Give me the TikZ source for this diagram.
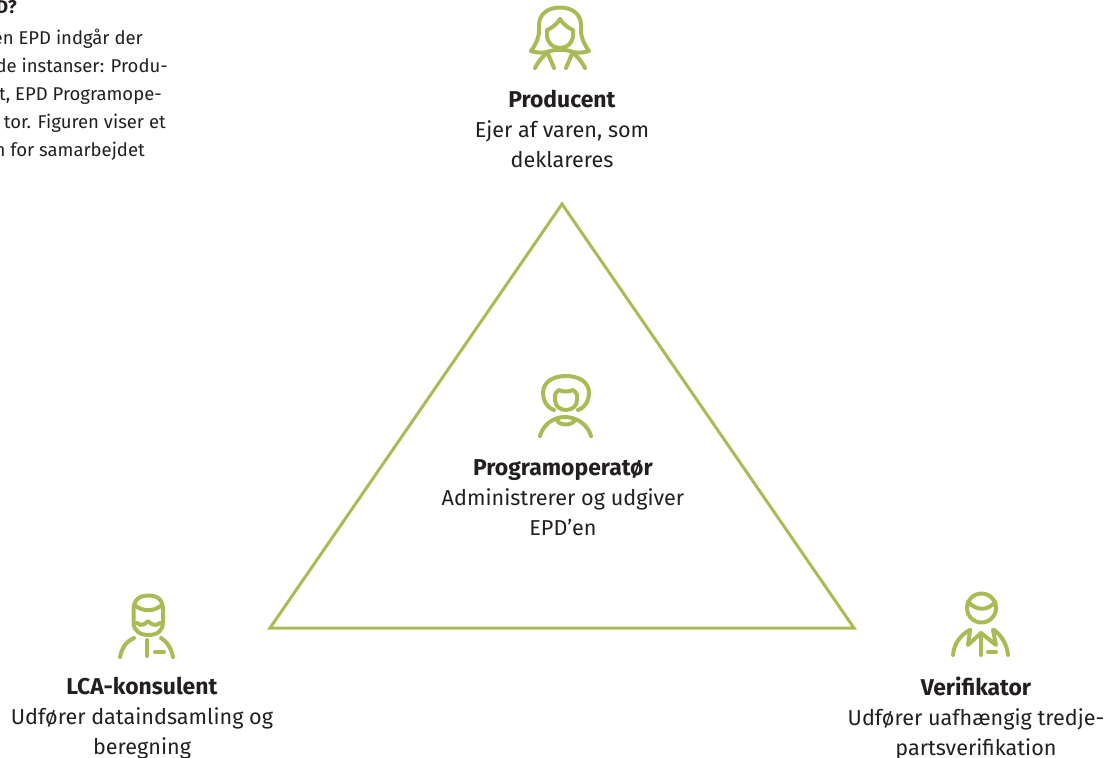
\documentclass[tikz,border=0pt]{standalone}
\usepackage{fontspec}
\setmainfont{Fira Sans}
\definecolor{tri}{HTML}{A9BB55}
\definecolor{ink}{HTML}{231F20}
\newcommand{\lblhead}[1]{{\fontsize{22.9}{30}\selectfont\textbf{#1}}}
\tikzset{
 tribox/.style={draw=tri,line width=3pt,line join=miter},
 icon/.style={draw=tri,line width=4pt,line cap=round,line join=round},
 lbl/.style={align=center,text=ink,font=\fontsize{21.6}{30}\selectfont,inner sep=0pt,anchor=north},
 side/.style={text=ink,font=\fontsize{18.5}{28}\selectfont,inner sep=0pt,anchor=base east},
}
\begin{document}
\begin{tikzpicture}[x=1pt,y=-1pt]
\useasboundingbox (0,0) rectangle (1109,758);
% triangle
\coordinate (ta) at (562,204);
\coordinate (tb) at (270,628);
\coordinate (tc) at (854,628);
\draw[tribox] (ta) -- (tb) -- (tc) -- cycle;
% side text
\node[side] (head) at (17,13) {\textbf{D?}};
\node[side] (s1) at (143,44) {en EPD indgår der};
\node[side] (s2) at (168,72) {de instanser: Produ-};
\node[side] (s3) at (162,100) {t, EPD Programope-};
\node[side] (s4) at (166,128) {tor. Figuren viser et};
\node[side] (s5) at (145,156) {n for samarbejdet};
% labels
\node[lbl] (prod) at (562,90) {\lblhead{Producent}\\Ejer af varen, som\\deklareres};
\node[lbl] (prog) at (563,459.5) {\lblhead{Programoperatør}\\Administrerer og udgiver\\EPD’en};
\node[lbl] (lca) at (142,677) {\lblhead{LCA-konsulent}\\Udfører dataindsamling og\\beregning};
\node[lbl] (ver) at (976,677) {\lblhead{Verifikator}\\Udfører uafhængig tredje-\\partsverifikation};
% Producent icon
\draw[icon] (531,51) .. controls (536,44) and (539,38) .. (539,30) -- (539,25)
  .. controls (539,14) and (548,7.5) .. (560,7.5) .. controls (572,7.5) and (581,14) .. (581,25) -- (581,30)
  .. controls (581,38) and (584,44) .. (589,51) .. controls (583,53) and (577,53) .. (573,52)
  .. controls (565,49) and (555,49) .. (547,52) .. controls (543,53) and (537,53) .. (531,51);
\draw[icon] (560,19) .. controls (557,24) and (552,28) .. (547,30) -- (547,35)
  .. controls (547,43) and (553,48) .. (560,48) .. controls (567,48) and (573,43) .. (573,35) -- (573,30)
  .. controls (568,28) and (563,24) .. (560,19);
\draw[icon] (535,68) .. controls (538,62) and (542,57) .. (547,53);
\draw[icon] (585,68) .. controls (582,62) and (578,57) .. (573,53);
\draw[icon] (548,54) -- (554,68);
\draw[icon] (572,54) -- (566,68);
% Programoperator icon
\draw[icon] (554,410) .. controls (546,407) and (543,400) .. (543,393)
  .. controls (543,382) and (553,376) .. (566,376) .. controls (579,376) and (589,382) .. (589,393)
  .. controls (589,400) and (586,407) .. (578,410);
\draw[icon] (555,395) .. controls (555,393) and (557,392) .. (559,390) .. controls (562,392) and (570,392) .. (573,390)
  .. controls (575,392) and (577,393) .. (577,395) -- (577,400) .. controls (577,406) and (572,410) .. (566,410) .. controls (560,410) and (555,406) .. (555,400) -- cycle;
\draw[icon] (540,436) .. controls (543,425) and (553,417) .. (565,417) .. controls (577,417) and (588,425) .. (591,436);
\draw[icon] (557,420) .. controls (559,426) and (572,426) .. (575,420);
% LCA icon
\draw[icon] (133.5,610) .. controls (133.5,600) and (139,595.5) .. (148.5,595.5) .. controls (158,595.5) and (163,600) .. (163,610)
  -- (163,622) .. controls (163,631) and (157,635) .. (148.5,635) .. controls (140,635) and (133.5,631) .. (133.5,622) -- cycle;
\draw[icon] (134,605) .. controls (144,612) and (153,612) .. (162,605);
\draw[icon] (137,623) .. controls (142,627) and (145,624) .. (148,621) .. controls (151,624) and (155,627) .. (160,623);
\draw[icon] (120,657) .. controls (122,647) and (127,641) .. (134,638);
\draw[icon] (173,657) .. controls (171,647) and (166,641) .. (161,638);
\draw[icon] (147,640) -- (147,656);
\draw[icon] (155,652) -- (164,652);
% Verifikator icon
\draw[icon] (981.5,608) circle[radius=14.5];
\draw[icon] (968,602) .. controls (977,611) and (987,611) .. (995.5,602);
\draw[icon] (953,655) .. controls (954,644) and (960,635) .. (970,630);
\draw[icon] (1008,655) .. controls (1007,644) and (1001,635) .. (994,630);
\draw[icon] (970,630) -- (968,645) -- (981,633) -- (996,645) -- (993,630);
\draw[icon] (981,633) -- (981,655);
\draw[icon] (988,652) -- (996,652);
\end{tikzpicture}
\end{document}
